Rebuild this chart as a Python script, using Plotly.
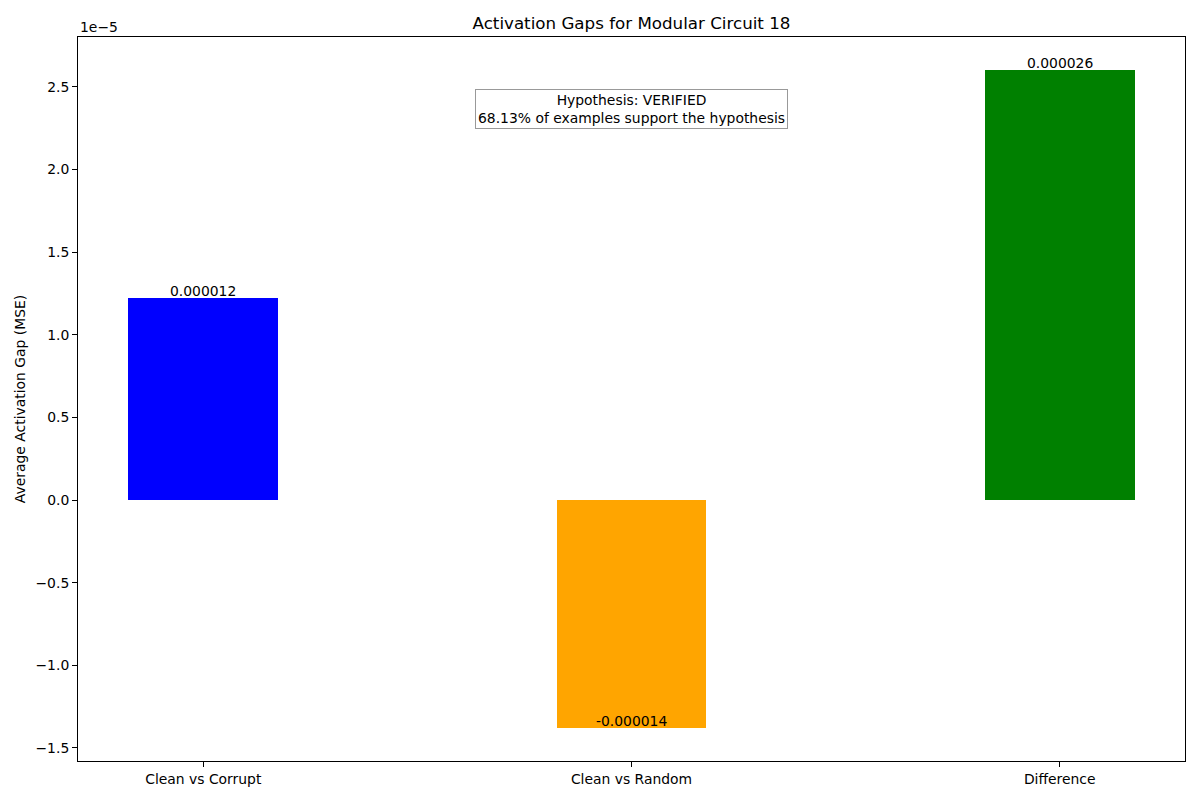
import plotly.graph_objects as go

categories = ["Clean vs Corrupt", "Clean vs Random", "Difference"]
values = [1.223e-5, -1.380e-5, 2.603e-5]
colors = ["blue", "orange", "green"]
bar_labels = ["0.000012", "-0.000014", "0.000026"]
ytick_vals = [-1.5e-5, -1.0e-5, -0.5e-5, 0.0, 0.5e-5, 1.0e-5, 1.5e-5, 2.0e-5, 2.5e-5]
ytick_text = ["\u22121.5", "\u22121.0", "\u22120.5", "0.0", "0.5", "1.0", "1.5", "2.0", "2.5"]
title = "Activation Gaps for Modular Circuit 18"
ylabel = "Average Activation Gap (MSE)"
box_text = "Hypothesis: VERIFIED<br>68.13% of examples support the hypothesis"

xpos = list(range(len(categories)))
bar_width = 0.35

font = "DejaVu Sans"
fs = 13.9

fig = go.Figure()
fig.add_trace(go.Bar(
    x=xpos, y=values, width=bar_width,
    marker=dict(color=colors, line=dict(width=0)),
    showlegend=False, hoverinfo="skip",
))

for xi, v, lab in zip(xpos, values, bar_labels):
    fig.add_annotation(x=xi, y=v, text=lab, showarrow=False,
                       xanchor="center", yanchor="bottom", yshift=-3,
                       font=dict(family=font, size=fs, color="black"))

ymin = min(values + [0])
ymax = max(values + [0])
ypad = (ymax - ymin) * 0.05
xpad = (len(categories) - 1 + bar_width) * 0.05

fig.add_annotation(xref="paper", yref="paper", x=0.5, y=0.9,
                   text=box_text, showarrow=False,
                   xanchor="center", yanchor="middle", align="center",
                   bgcolor="white", bordercolor="#999999", borderwidth=1, borderpad=2,
                   font=dict(family=font, size=fs, color="black"))

fig.add_annotation(xref="paper", yref="paper", x=0, y=1, text="1e\u22125",
                   showarrow=False, xanchor="left", yanchor="bottom", yshift=0,
                   font=dict(family=font, size=fs, color="black"))

fig.update_layout(
    width=1200, height=800,
    margin=dict(l=78, r=15, t=37, b=39),
    paper_bgcolor="white", plot_bgcolor="white",
    font=dict(family=font, size=fs, color="black"),
    title=dict(text=title, x=0.5 * (78 + 1185) / 1200, xanchor="center",
               y=1 - 23 / 800, yanchor="middle",
               font=dict(family=font, size=16.7, color="black")),
    bargap=0,
)
fig.update_xaxes(
    range=[-bar_width / 2 - xpad, len(categories) - 1 + bar_width / 2 + xpad],
    tickvals=xpos, ticktext=categories,
    showline=True, linecolor="black", linewidth=1, mirror=True,
    ticks="outside", ticklen=5, tickwidth=1, tickcolor="black",
    showgrid=False, zeroline=False,
)
fig.update_yaxes(
    range=[ymin - ypad, ymax + ypad],
    tickvals=ytick_vals, ticktext=ytick_text,
    showline=True, linecolor="black", linewidth=1, mirror=True,
    ticks="outside", ticklen=5, tickwidth=1, tickcolor="black",
    showgrid=False, zeroline=False,
    title=dict(text=ylabel, font=dict(family=font, size=fs, color="black"), standoff=6),
)

fig.write_html("out.html", config={"displayModeBar": False},
               post_script="document.body.style.margin='0';")
